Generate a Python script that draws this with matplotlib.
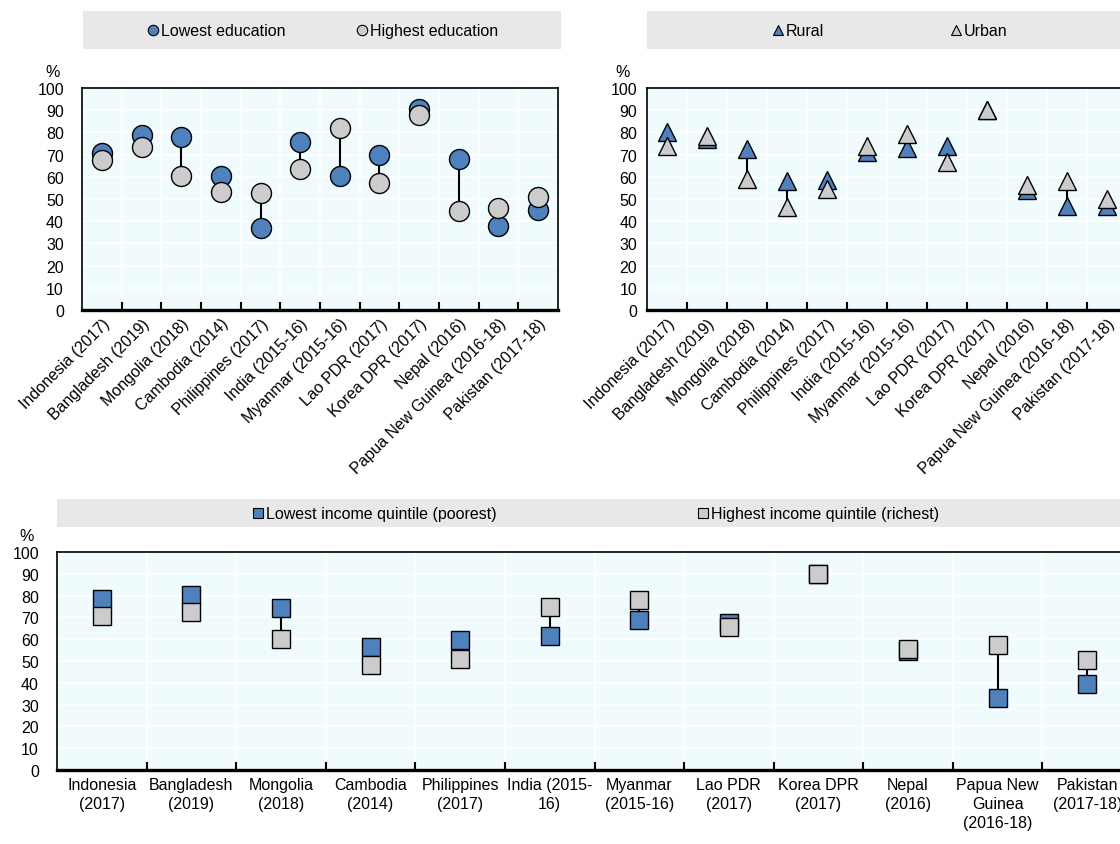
import numpy as np
import matplotlib
matplotlib.use('Agg')
import matplotlib.pyplot as plt

plt.rcParams['font.family'] = ['Liberation Sans', 'DejaVu Sans']
plt.rcParams['font.size'] = 11.5

# ---------------- data ----------------
labels_rot = ["Indonesia (2017)", "Bangladesh (2019)", "Mongolia (2018)", "Cambodia (2014)",
              "Philippines (2017)", "India (2015-16)", "Myanmar (2015-16)", "Lao PDR (2017)",
              "Korea DPR (2017)", "Nepal (2016)", "Papua New Guinea (2016-18)", "Pakistan (2017-18)"]
labels_wrap = ["Indonesia\n(2017)", "Bangladesh\n(2019)", "Mongolia\n(2018)", "Cambodia\n(2014)",
               "Philippines\n(2017)", "India (2015-\n16)", "Myanmar\n(2015-16)", "Lao PDR\n(2017)",
               "Korea DPR\n(2017)", "Nepal\n(2016)", "Papua New\nGuinea\n(2016-18)", "Pakistan\n(2017-18)"]

edu_lowest = [70.5, 79, 78, 60.5, 37, 75.5, 60.5, 70, 90.5, 68, 38, 45]
edu_highest = [67.5, 73.5, 60.5, 53, 52.5, 63.5, 82, 57, 88, 44.5, 46, 51]

rural = [80, 77, 72.5, 58, 58.5, 71, 73, 74, 90, 54, 47, 47]
urban = [74, 78.5, 59, 46.5, 54.5, 74, 79.5, 66.5, 90, 56.5, 58, 50]

inc_lowest = [78.5, 80.5, 74.5, 56.5, 59.5, 61.5, 69, 67.5, 90, 54.5, 33, 39.5]
inc_highest = [70.5, 72.5, 60, 48, 51, 75, 78, 65.5, 90, 55.5, 57.5, 50.5]

legend_edu = ["Lowest education", "Highest education"]
legend_loc = ["Rural", "Urban"]
legend_inc = ["Lowest income quintile (poorest)", "Highest income quintile (richest)"]
yticks = list(range(0, 101, 10))

# ---------------- style ----------------
BLUE = '#4f81bd'
GREY = '#cccccc'
BG = '#f0fbfd'
LEGBG = '#e8e8e8'

W, H = 1120, 845
fig = plt.figure(figsize=(W / 100, H / 100), dpi=100)


def ax_px(l, t, r, b):
    return fig.add_axes([l / W, 1 - b / H, (r - l) / W, (b - t) / H])


def style(ax, labels, rotated, ypad, pct_dx):
    n = len(labels)
    x = np.arange(n)
    ax.set_xlim(-0.5, n - 0.5)
    ax.set_ylim(0, 100)
    ax.set_facecolor(BG)
    ax.set_xticks(x)
    if rotated:
        ax.set_xticklabels(labels, rotation=45, ha='right', rotation_mode='anchor')
        ax.tick_params(axis='x', which='major', length=0, pad=4)
    else:
        ax.set_xticklabels(labels, linespacing=1.35)
        ax.tick_params(axis='x', which='major', length=0, pad=5)
    ax.set_xticks(np.arange(0.5, n - 1, 1), minor=True)
    ax.tick_params(axis='x', which='minor', direction='in', length=6, width=1.5, color='black')
    ax.set_yticks(yticks)
    ax.tick_params(axis='y', length=0, pad=ypad)
    ax.xaxis.grid(True, which='minor', color='white', lw=1.2)
    ax.yaxis.grid(True, which='major', color='white', lw=1.2)
    ax.set_axisbelow(True)
    for s in ['top', 'left', 'right']:
        ax.spines[s].set_linewidth(1.2)
        ax.spines[s].set_color('black')
    ax.spines['bottom'].set_linewidth(2.4)
    ax.annotate('%', xy=(0, 1), xycoords='axes fraction', xytext=(pct_dx, 9),
                textcoords='offset pixels', ha='center', va='bottom')


def dumbbell(ax, low, high, marker, ms):
    x = np.arange(len(low))
    for xi, a, b in zip(x, low, high):
        ax.plot([xi, xi], [a, b], color='black', lw=1.5, zorder=2)
    ax.plot(x, low, ls='none', marker=marker, ms=ms, mfc=BLUE, mec='black', mew=1.0, zorder=3,
            clip_on=False)
    ax.plot(x, high, ls='none', marker=marker, ms=ms, mfc=GREY, mec='black', mew=1.0, zorder=4,
            clip_on=False)


def legend_bar(l, t, r, b, items, marker):
    lax = ax_px(l, t, r, b)
    lax.set_facecolor(LEGBG)
    lax.set_xlim(l, r)
    lax.set_ylim(b, t)
    lax.set_xticks([])
    lax.set_yticks([])
    for s in lax.spines.values():
        s.set_visible(False)
    yc = (t + b) / 2
    for xm, color, text in items:
        lax.plot([xm], [yc], marker=marker, ms=7.5, mfc=color, mec='black', mew=0.8, ls='none')
        lax.text(xm + 8, yc + 0.5, text, ha='left', va='center')


# ---- top-left: education ----
ax1 = ax_px(82, 89, 558, 311)
style(ax1, labels_rot, True, 13, -29)
dumbbell(ax1, edu_lowest, edu_highest, 'o', 14.4)
legend_bar(83, 12, 561, 50, [(153, BLUE, legend_edu[0]), (362, GREY, legend_edu[1])], 'o')

# ---- top-right: rural / urban ----
ax2 = ax_px(647, 89, 1127, 311)
style(ax2, labels_rot, True, 7, -24)
dumbbell(ax2, rural, urban, '^', 13.5)
legend_bar(647, 12, 1130, 50, [(778, BLUE, legend_loc[0]), (956, GREY, legend_loc[1])], '^')

# ---- bottom: income ----
ax3 = ax_px(57, 553, 1132, 771)
style(ax3, labels_wrap, False, 13, -30)
dumbbell(ax3, inc_lowest, inc_highest, 's', 13.5)
legend_bar(57, 500, 1130, 528, [(258, BLUE, legend_inc[0]), (703, GREY, legend_inc[1])], 's')

fig.savefig('out.png', dpi=100)
